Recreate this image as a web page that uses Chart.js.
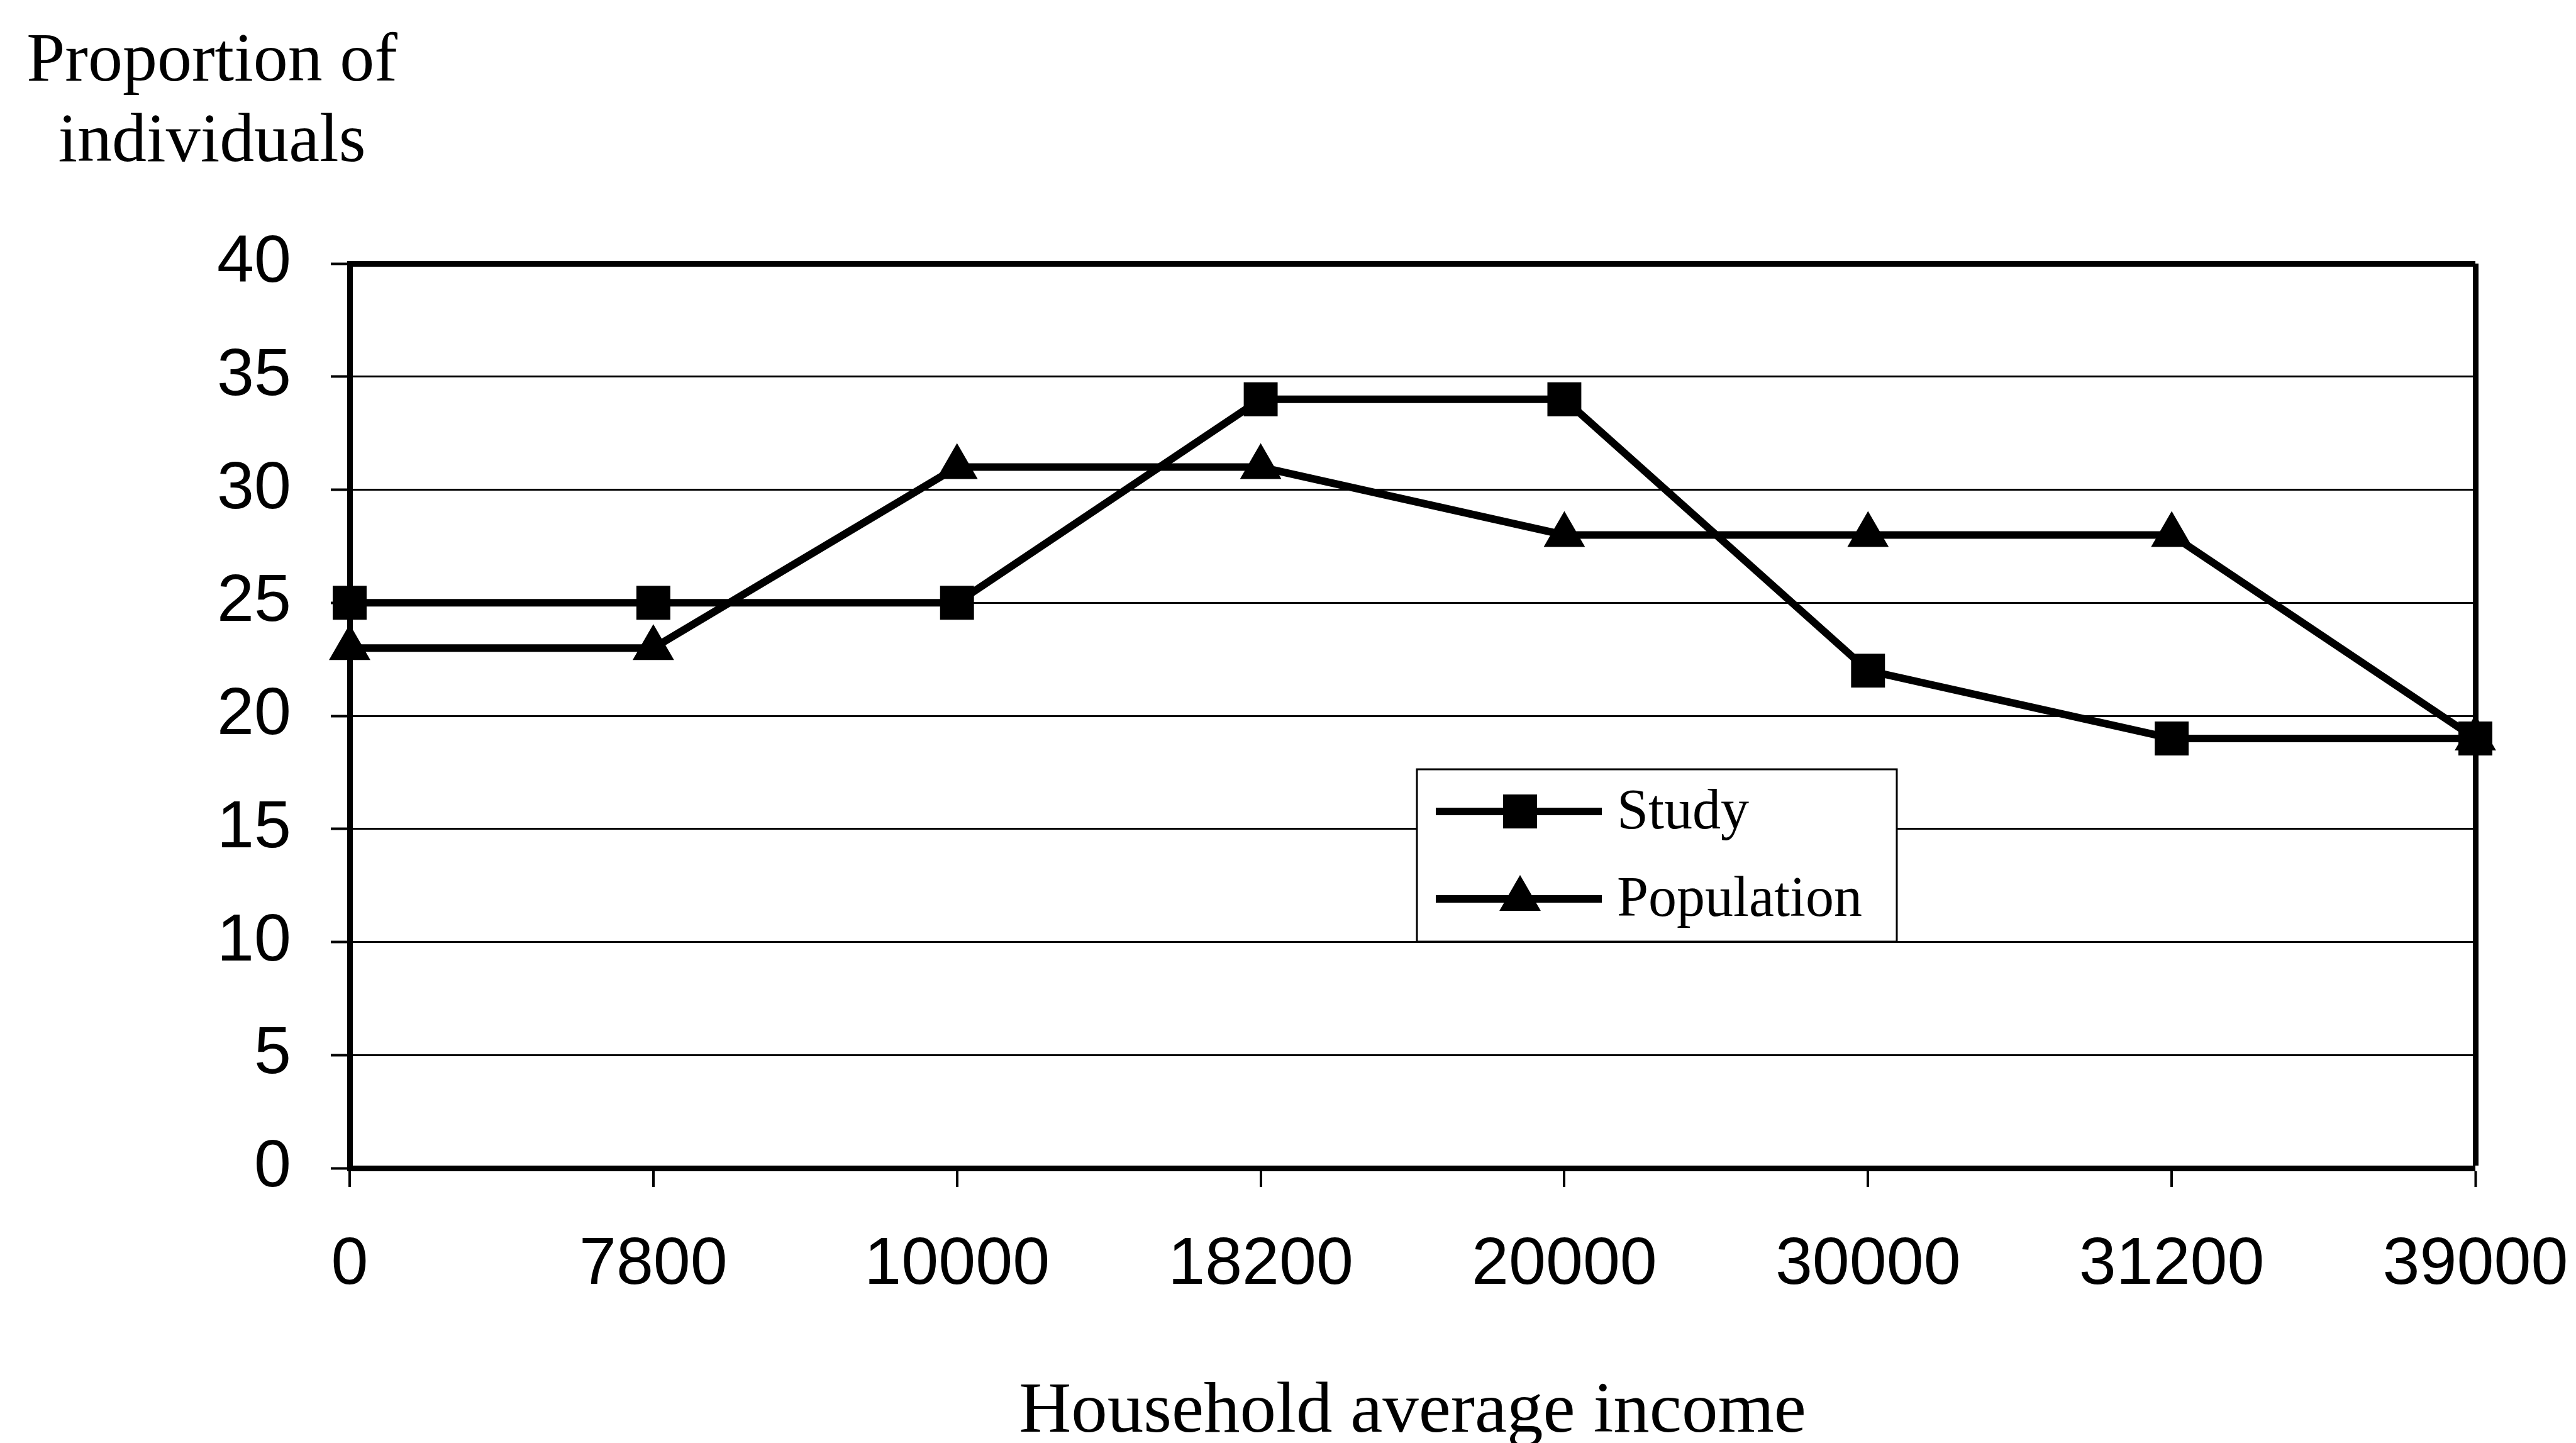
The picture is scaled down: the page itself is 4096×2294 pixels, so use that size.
<!DOCTYPE html>
<html>
<head>
<meta charset="utf-8">
<script src="https://cdn.jsdelivr.net/npm/chart.js@4/dist/chart.umd.min.js"></script>
<style>
  html, body { margin: 0; padding: 0; background: #ffffff; }
  #wrap { width: 4096px; height: 2294px; }
</style>
</head>
<body>
<div id="wrap"><canvas id="c" width="4096" height="2294"></canvas></div>
<script>
// ---- data ----
const categories = ['0', '7800', '10000', '18200', '20000', '30000', '31200', '39000'];
const studyValues = [25, 25, 25, 34, 34, 22, 19, 19];
const populationValues = [23, 23, 31, 31, 28, 28, 28, 19];
const seriesNames = ['Study', 'Population'];
const yAxisLines = ['Proportion of', 'individuals'];
const xAxisTitle = 'Household average income';
const yMin = 0, yMax = 40, yStep = 5;

// ---- plugins ----
const topLeftLabel = {
  id: 'topLeftLabel',
  afterDraw(chart) {
    const ctx = chart.ctx;
    ctx.save();
    ctx.fillStyle = '#000';
    ctx.font = '110px "Liberation Serif"';
    ctx.textAlign = 'center';
    ctx.textBaseline = 'alphabetic';
    yAxisLines.forEach((t, i) => ctx.fillText(t, 337, 128 + i * 128));
    ctx.restore();
  }
};

const boxedLegend = {
  id: 'boxedLegend',
  afterDatasetsDraw(chart) {
    const ctx = chart.ctx;
    const bx = 2253, by = 1223, bw = 763, bh = 274;
    ctx.save();
    ctx.fillStyle = '#ffffff';
    ctx.fillRect(bx, by, bw, bh);
    ctx.lineWidth = 3;
    ctx.strokeStyle = '#000';
    ctx.strokeRect(bx, by, bw, bh);
    chart.data.datasets.forEach((ds, i) => {
      const y = by + 67 + i * 139;
      ctx.strokeStyle = ds.borderColor;
      ctx.lineWidth = ds.borderWidth;
      ctx.lineCap = 'butt';
      ctx.beginPath();
      ctx.moveTo(bx + 30, y);
      ctx.lineTo(bx + 294, y);
      ctx.stroke();
      ctx.fillStyle = ds.pointBackgroundColor;
      ctx.strokeStyle = ds.pointBorderColor;
      ctx.lineWidth = ds.pointBorderWidth;
      Chart.helpers.drawPoint(ctx, {
        pointStyle: ds.pointStyle, radius: ds.pointRadius,
        borderWidth: ds.pointBorderWidth, rotation: 0
      }, bx + 164, y);
      ctx.fillStyle = '#000';
      ctx.font = '90px "Liberation Serif"';
      ctx.textAlign = 'left';
      ctx.textBaseline = 'middle';
      ctx.fillText(ds.label, bx + 318, y + 3);
    });
    ctx.restore();
  }
};

const tickFont = { family: '"Liberation Sans", Arial, sans-serif', size: 106, lineHeight: 1.2 };

new Chart(document.getElementById('c'), {
  type: 'line',
  data: {
    labels: categories,
    datasets: [
      {
        label: seriesNames[0], data: studyValues,
        borderColor: '#000', backgroundColor: '#000', borderWidth: 12,
        pointStyle: 'rect', pointRadius: 36, pointBorderWidth: 3,
        pointBackgroundColor: '#000', pointBorderColor: '#000',
        tension: 0, fill: false
      },
      {
        label: seriesNames[1], data: populationValues,
        borderColor: '#000', backgroundColor: '#000', borderWidth: 12,
        pointStyle: 'triangle', pointRadius: 35, pointBorderWidth: 3,
        pointBackgroundColor: '#000', pointBorderColor: '#000',
        tension: 0, fill: false
      }
    ]
  },
  options: {
    responsive: false,
    animation: false,
    devicePixelRatio: 1,
    layout: { padding: { left: 0, right: 160, top: 419, bottom: 0 } },
    plugins: {
      legend: { display: false },
      title: { display: false },
      tooltip: { enabled: false }
    },
    scales: {
      x: {
        type: 'category',
        offset: false,
        grid: {
          display: true,
          color: '#000',
          lineWidth: (c) => (c.index === categories.length - 1 ? 9 : 0),
          drawTicks: true,
          tickLength: 30,
          tickWidth: 4,
          tickColor: '#000'
        },
        border: { display: true, color: '#000', width: 9 },
        ticks: { font: tickFont, color: '#000', padding: 61, maxRotation: 0, autoSkip: false },
        title: {
          display: true, text: xAxisTitle, color: '#000',
          font: { family: '"Liberation Serif", serif', size: 115, lineHeight: 0.84 },
          padding: 0
        },
        afterFit: (s) => { s.height = 437; s.paddingLeft = 0; s.paddingRight = 0; }
      },
      y: {
        min: yMin, max: yMax,
        grid: {
          color: '#000',
          lineWidth: (c) => (c.tick && c.tick.value === yMax ? 9 : 3),
          tickLength: 30,
          tickWidth: 4,
          tickColor: '#000'
        },
        border: { display: true, color: '#000', width: 9 },
        ticks: { stepSize: yStep, font: tickFont, color: '#000', padding: 63 },
        afterFit: (s) => { s.width = 556; }
      }
    }
  },
  plugins: [topLeftLabel, boxedLegend]
});
</script>
</body>
</html>
